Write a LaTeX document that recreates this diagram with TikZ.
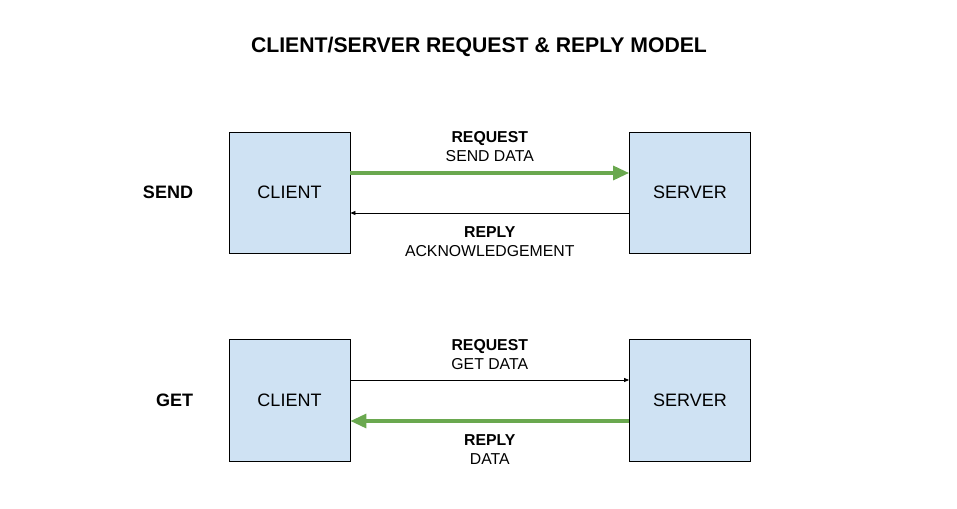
\documentclass[tikz,border=0pt]{standalone}
\usepackage{fontspec}
\setmainfont{Liberation Sans}
\usetikzlibrary{arrows.meta}
\usetikzlibrary{math}
\definecolor{boxblue}{HTML}{CFE2F3}
\definecolor{datagreen}{HTML}{6AA84F}

\begin{document}
\begin{tikzpicture}[x = 1pt, y = -1pt,
    box/.style = {draw, line width = .8pt, fill = boxblue, minimum width = 121pt, minimum height = 121pt, inner sep = 0pt, font = \fontsize{18}{20}\selectfont},
    bigarrow/.style = {draw = datagreen, line width = 3.2pt, -{Triangle[length = 16pt, width = 14pt]}},
    thinarrow/.style = {draw, line width = .8pt, -{Triangle[length = 5pt, width = 4pt]}},
    lbl/.style = {align = center, inner sep = 0pt, font = \fontsize{15.8}{19}\selectfont},
    rowname/.style = {font = \fontsize{18}{20}\selectfont\bfseries}]

    \useasboundingbox (0,0) rectangle (957,508);
    \node (title) at (479,47) {\fontsize{21.2}{24}\selectfont\bfseries CLIENT/SERVER REQUEST \& REPLY MODEL};

    % send row
    \tikzmath{\y1 = 192.5;};
    \node[rowname] (send) at (168,\y1) {SEND};
    \node[box] (client1) at (289.5,\y1) {CLIENT};
    \node[box] (server1) at (690,\y1) {SERVER};
    \draw[bigarrow] ([yshift = 19.5pt]client1.east) -- ([yshift = 19.5pt]server1.west)
        node[lbl, midway, yshift = 26.5pt] (req1) {\textbf{REQUEST}\\SEND DATA};
    \draw[thinarrow] ([yshift = -20.5pt]server1.west) -- ([yshift = -20.5pt]client1.east)
        node[lbl, midway, yshift = -28.5pt] (rep1) {\textbf{REPLY}\\ACKNOWLEDGEMENT};

    % get row
    \tikzmath{\y2 = 400;};
    \node[rowname] (get) at (174.5,\y2) {GET};
    \node[box, minimum height = 122pt] (client2) at (289.5,\y2) {CLIENT};
    \node[box, minimum height = 122pt] (server2) at (690,\y2) {SERVER};
    \draw[thinarrow] ([yshift = 20pt]client2.east) -- ([yshift = 20pt]server2.west)
        node[lbl, midway, yshift = 25.5pt] (req2) {\textbf{REQUEST}\\GET DATA};
    \draw[bigarrow] ([yshift = -21pt]server2.west) -- ([yshift = -21pt]client2.east)
        node[lbl, midway, yshift = -28.5pt] (rep2) {\textbf{REPLY}\\DATA};

\end{tikzpicture}
\end{document}
